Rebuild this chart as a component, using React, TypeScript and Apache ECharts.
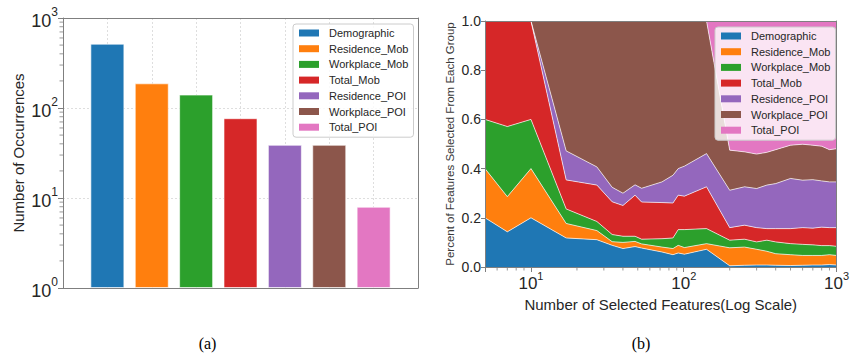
import React, { useEffect, useRef } from 'react';
import * as echarts from 'echarts';

// ---------- data ----------
const groups = ['Demographic', 'Residence_Mob', 'Workplace_Mob', 'Total_Mob', 'Residence_POI', 'Workplace_POI', 'Total_POI'];
const colors = ['#1f77b4', '#ff7f0e', '#2ca02c', '#d62728', '#9467bd', '#8c564b', '#e377c2'];

// (a) number of occurrences per group
const occurrences = [518, 188, 141, 77, 39, 39, 8];

// (b) share of selected features per group vs number of selected features
const featureCounts = [5, 7, 10, 17, 27, 34, 40, 48, 53, 72, 85, 92, 101, 141, 200, 250, 300, 350, 400, 500, 600, 700, 800, 900, 1000];
const demographicShare = [0.2, 0.143, 0.2, 0.118, 0.111, 0.088, 0.075, 0.083, 0.077, 0.061, 0.05, 0.057, 0.052, 0.072, 0.005, 0.007, 0.008, 0.008, 0.007, 0.006, 0.007, 0.008, 0.008, 0.01, 0.008];
const residenceMobShare = [0.2, 0.143, 0.2, 0.059, 0.037, 0.015, 0.025, 0.021, 0.017, 0.02, 0.025, 0.031, 0.027, 0.023, 0.073, 0.074, 0.064, 0.056, 0.047, 0.044, 0.04, 0.039, 0.039, 0.04, 0.039];
const workplaceMobShare = [0.2, 0.285, 0.2, 0.059, 0.037, 0.029, 0.025, 0.021, 0.019, 0.034, 0.043, 0.064, 0.073, 0.061, 0.031, 0.032, 0.03, 0.045, 0.048, 0.045, 0.045, 0.043, 0.04, 0.037, 0.037];
const totalMobShare = [0.4, 0.429, 0.4, 0.118, 0.148, 0.133, 0.125, 0.167, 0.151, 0.147, 0.142, 0.14, 0.136, 0.17, 0.051, 0.057, 0.058, 0.047, 0.054, 0.061, 0.068, 0.068, 0.075, 0.073, 0.076];
const residencePoiShare = [0, 0, 0, 0.118, 0.074, 0.059, 0.05, 0.042, 0.056, 0.084, 0.113, 0.108, 0.122, 0.135, 0.152, 0.156, 0.159, 0.177, 0.183, 0.204, 0.193, 0.197, 0.188, 0.186, 0.186];
const workplacePoiShare = [0, 0, 0, 0.528, 0.593, 0.676, 0.7, 0.666, 0.68, 0.654, 0.627, 0.6, 0.59, 0.539, 0.163, 0.142, 0.14, 0.133, 0.138, 0.135, 0.146, 0.14, 0.141, 0.131, 0.135];
const totalPoiShare = [0, 0, 0, 0, 0, 0, 0, 0, 0, 0, 0, 0, 0, 0, 0.525, 0.532, 0.541, 0.534, 0.523, 0.505, 0.501, 0.505, 0.509, 0.523, 0.519];
const shares = [demographicShare, residenceMobShare, workplaceMobShare, totalMobShare, residencePoiShare, workplacePoiShare, totalPoiShare];

// minor tick positions of the log axes
const minorTicksA = [2, 3, 4, 5, 6, 7, 8, 9, 20, 30, 40, 50, 60, 70, 80, 90, 200, 300, 400, 500, 600, 700, 800, 900];
const minorTicksB = [6, 7, 8, 9, 20, 30, 40, 50, 60, 70, 80, 90, 200, 300, 400, 500, 600, 700, 800, 900];

const FONT = '"Liberation Sans", Arial, Helvetica, sans-serif';
const SERIF = '"Liberation Serif", "Times New Roman", serif';
const TEXT = '#262626';
const FRAME = '#7f7f7f';

const powLabel = (v: number) => {
  const l = Math.log10(v);
  const e = Math.round(l);
  if (Math.abs(l - e) > 1e-6) return '';
  return `{b|10}{s|${e}}`;
};

const frameAxis = (gridIndex: number, position: string) => ({
  gridIndex,
  type: 'value',
  position,
  min: 0,
  max: 1,
  z: 10,
  axisLine: { show: true, onZero: false, lineStyle: { color: FRAME, width: 1 } },
  axisTick: { show: false },
  axisLabel: { show: false },
  splitLine: { show: false },
});

const minorTickSeries = (xi: number, yi: number, values: number[], dir: 'x' | 'y') => ({
  type: 'custom',
  xAxisIndex: xi,
  yAxisIndex: yi,
  z: 11,
  silent: true,
  clip: false,
  data: values.map((v) => (dir === 'y' ? [0, v] : [v, 0])),
  renderItem: (params: any, api: any) => {
    const p = api.coord([api.value(0), api.value(1)]);
    const cs = params.coordSys;
    if (dir === 'y') {
      return { type: 'line', shape: { x1: cs.x - 3.5, y1: p[1], x2: cs.x, y2: p[1] }, style: { stroke: FRAME, lineWidth: 0.8 } };
    }
    const yb = cs.y + cs.height;
    return { type: 'line', shape: { x1: p[0], y1: yb, x2: p[0], y2: yb + 3.5 }, style: { stroke: FRAME, lineWidth: 0.8 } };
  },
});

const legendBase = {
  orient: 'vertical',
  icon: 'rect',
  itemWidth: 20,
  itemHeight: 7,
  itemGap: 3.7,
  padding: [3, 5, 4, 6],
  backgroundColor: 'rgba(255,255,255,0.8)',
  borderColor: '#cccccc',
  borderWidth: 1,
  borderRadius: 3,
  itemStyle: { borderWidth: 0 },
  textStyle: { fontFamily: FONT, fontSize: 11, color: TEXT, lineHeight: 12, padding: [0, 0, 0, 5] },
  data: groups,
  selectedMode: false,
};

export default function App() {
  const ref = useRef<HTMLDivElement>(null);
  useEffect(() => {
    if (!ref.current) return;
    const chart = echarts.init(ref.current, undefined, { renderer: 'svg' });

    const barSeries = groups.map((g, i) => ({
      type: 'bar',
      name: g,
      xAxisIndex: 0,
      yAxisIndex: 0,
      barWidth: 34,
      barGap: '-100%',
      itemStyle: { color: colors[i], borderColor: 'rgba(255,255,255,0.6)', borderWidth: 1 },
      data: [[i, occurrences[i]]],
    }));

    // data rows are [share, featureCount]; encode puts the share on y so the stack sums the shares
    const areaSeries = groups.map((g, i) => ({
      type: 'line',
      name: g,
      xAxisIndex: 3,
      yAxisIndex: 2,
      stack: 'share',
      symbol: 'none',
      encode: { x: 1, y: 0 },
      itemStyle: { color: colors[i] },
      lineStyle: { color: 'rgba(255,255,255,0.75)', width: 0.9 },
      areaStyle: { color: colors[i], opacity: 1 },
      data: featureCounts.map((x, k) => [shares[i][k], x]),
    }));

    chart.setOption({
      animation: false,
      backgroundColor: '#ffffff',
      grid: [
        { left: 63, top: 18, width: 355, height: 270 },
        { left: 485, top: 21, width: 354, height: 246 },
      ],
      xAxis: [
        {
          gridIndex: 0,
          type: 'value',
          position: 'bottom',
          min: -1,
          max: 7,
          interval: 1,
          axisLine: { show: false },
          axisTick: { show: false },
          axisLabel: { show: false },
          splitLine: { show: true, lineStyle: { color: '#d6d6d6', width: 0.8, type: [2, 2] } },
        },
        frameAxis(0, 'bottom'),
        frameAxis(0, 'top'),
        {
          gridIndex: 1,
          type: 'log',
          logBase: 10,
          position: 'bottom',
          min: 5,
          max: 1000,
          splitNumber: 2,
          z: 10,
          axisLine: { show: true, onZero: false, lineStyle: { color: FRAME, width: 1 } },
          axisTick: { show: true, inside: false, length: 5, lineStyle: { color: FRAME } },
          splitLine: { show: false },
          axisLabel: {
            margin: 3,
            formatter: powLabel,
            rich: {
              b: { fontSize: 17, fontFamily: FONT, color: TEXT, padding: [5, 0, 0, 0] },
              s: { fontSize: 11, fontFamily: FONT, color: TEXT, verticalAlign: 'top' },
            },
          },
          name: 'Number of Selected Features(Log Scale)',
          nameLocation: 'middle',
          nameGap: 25,
          nameTextStyle: { fontFamily: FONT, fontSize: 15, color: TEXT, verticalAlign: 'top' },
        },
        frameAxis(1, 'top'),
      ],
      yAxis: [
        {
          gridIndex: 0,
          type: 'log',
          logBase: 10,
          position: 'left',
          min: 1,
          max: 1000,
          splitNumber: 3,
          axisLine: { show: true, onZero: false, lineStyle: { color: FRAME, width: 1 } },
          axisTick: { show: true, inside: false, length: 5, lineStyle: { color: FRAME } },
          splitLine: { show: true, lineStyle: { color: '#d6d6d6', width: 0.8, type: [2, 2] } },
          axisLabel: {
            margin: 5,
            formatter: powLabel,
            rich: {
              b: { fontSize: 18, fontFamily: FONT, color: TEXT, padding: [6, 0, 0, 0] },
              s: { fontSize: 12, fontFamily: FONT, color: TEXT, verticalAlign: 'top' },
            },
          },
          name: 'Number of Occurrences',
          nameLocation: 'middle',
          nameGap: 37,
          nameTextStyle: { fontFamily: FONT, fontSize: 15, color: TEXT },
        },
        frameAxis(0, 'right'),
        {
          gridIndex: 1,
          type: 'value',
          position: 'left',
          min: 0,
          max: 1,
          interval: 0.2,
          z: 10,
          axisLine: { show: true, onZero: false, lineStyle: { color: FRAME, width: 1 } },
          axisTick: { show: true, inside: false, length: 4, lineStyle: { color: FRAME } },
          splitLine: { show: false },
          axisLabel: {
            margin: 4,
            fontFamily: FONT,
            fontSize: 14,
            color: TEXT,
            formatter: (v: number) => v.toFixed(1),
          },
          name: 'Percent of Features Selected From Each Group',
          nameLocation: 'middle',
          nameGap: 29,
          nameTextStyle: { fontFamily: FONT, fontSize: 11.5, color: '#3a3a3a' },
        },
        frameAxis(1, 'right'),
      ],
      legend: [
        { ...legendBase, left: 293, top: 24 },
        { ...legendBase, left: 715, top: 27 },
      ],
      series: [
        ...barSeries,
        ...areaSeries,
        minorTickSeries(0, 0, minorTicksA, 'y'),
        minorTickSeries(3, 2, minorTicksB, 'x'),
      ],
      graphic: [
        { type: 'text', x: 207.5, y: 343, style: { text: '(a)', font: `16px ${SERIF}`, fill: '#000', textAlign: 'center', textVerticalAlign: 'middle' } },
        { type: 'text', x: 641, y: 343, style: { text: '(b)', font: `16px ${SERIF}`, fill: '#000', textAlign: 'center', textVerticalAlign: 'middle' } },
      ],
    });
    return () => chart.dispose();
  }, []);
  return <div ref={ref} style={{ position: 'absolute', left: 0, top: 0, width: 852, height: 356 }} />;
}
